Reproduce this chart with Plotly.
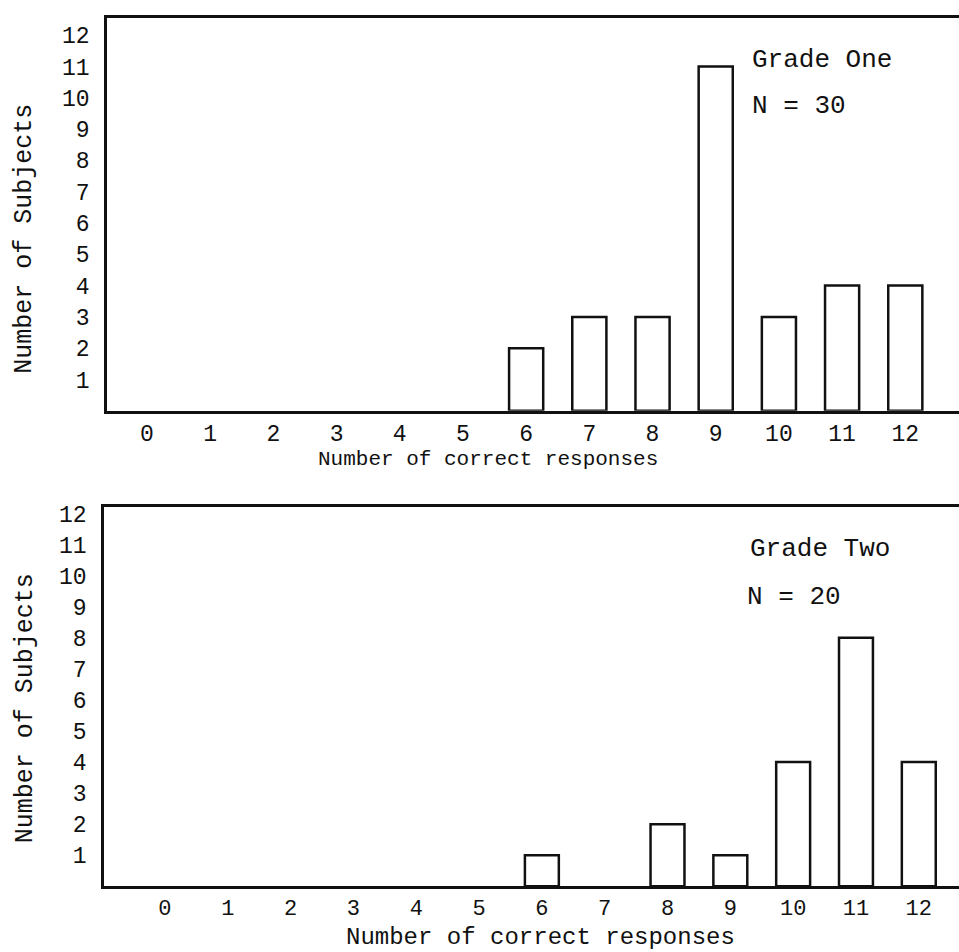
import plotly.graph_objects as go

# ---- data ----
responses = [0, 1, 2, 3, 4, 5, 6, 7, 8, 9, 10, 11, 12]
grade_one = [0, 0, 0, 0, 0, 0, 2, 3, 3, 11, 3, 4, 4]
grade_two = [0, 0, 0, 0, 0, 0, 1, 0, 2, 1, 4, 8, 4]
y_ticks = [1, 2, 3, 4, 5, 6, 7, 8, 9, 10, 11, 12]

FONT = "Liberation Mono"
INK = "#111111"

fig = go.Figure()

bar_style = dict(marker=dict(color="white", line=dict(color=INK, width=2.5)),
                 width=0.54, showlegend=False, hoverinfo="x+y")

def nonzero(xs, ys):
    pairs = [(x, y) for x, y in zip(xs, ys) if y > 0]
    return [p[0] for p in pairs], [p[1] for p in pairs]

x1, y1 = nonzero(responses, grade_one)
x2, y2 = nonzero(responses, grade_two)
fig.add_trace(go.Bar(x=x1, y=y1, xaxis="x", yaxis="y", **bar_style))
fig.add_trace(go.Bar(x=x2, y=y2, xaxis="x2", yaxis="y2", **bar_style))

W, H = 959, 952

def xd(px):
    return px / W

def yd(py):
    return 1 - py / H

axis_common = dict(showgrid=False, zeroline=False, showline=True,
                   linecolor=INK, linewidth=2.5,
                   ticks="outside", tickcolor="rgba(0,0,0,0)")

def tf(size):
    return dict(family=FONT, size=size, color=INK)

fig.update_layout(
    width=W, height=H,
    margin=dict(l=0, r=0, t=0, b=0),
    paper_bgcolor="white", plot_bgcolor="white",
    font=dict(family=FONT, color=INK),
    xaxis=dict(domain=[xd(107), 1], anchor="y", range=[-0.633, 12.85],
               tickvals=responses, mirror=True, ticklen=0, tickfont=tf(23), **axis_common),
    yaxis=dict(domain=[yd(408), yd(13)], anchor="x", range=[0, 12.55],
               tickvals=y_ticks, ticklen=10, tickfont=tf(23), **axis_common),
    xaxis2=dict(domain=[xd(104), 1], anchor="y2", range=[-0.97, 12.64],
                tickvals=responses, mirror=True, ticklen=0, tickfont=tf(22), **axis_common),
    yaxis2=dict(domain=[yd(886), yd(505)], anchor="x2", range=[0, 12.2],
                tickvals=y_ticks, ticklen=10, tickfont=tf(23), **axis_common),
)

ann = []
# axis titles
ann.append(dict(text="Number of Subjects", x=xd(25), y=yd(235), textangle=-90, font=tf(25)))
ann.append(dict(text="Number of Subjects", x=xd(25), y=yd(707), textangle=-90, font=tf(25)))
ann.append(dict(text="Number of correct responses", x=xd(488), y=yd(457), font=tf(21)))
ann.append(dict(text="Number of correct responses", x=xd(540), y=yd(937), font=tf(24)))
# panel labels
ann.append(dict(text="Grade One", x=xd(750), y=yd(55), xanchor="left", font=tf(26)))
ann.append(dict(text="N = 30", x=xd(750), y=yd(102), xanchor="left", font=tf(26)))
ann.append(dict(text="Grade Two", x=xd(748), y=yd(547), xanchor="left", font=tf(26)))
ann.append(dict(text="N = 20", x=xd(745), y=yd(595), xanchor="left", font=tf(26)))

for a in ann:
    a.update(xref="paper", yref="paper", showarrow=False)
    a.setdefault("xanchor", "center")
    a["yanchor"] = "middle"

fig.update_layout(annotations=ann)

fig.write_html("out.html",
               config={"displayModeBar": False},
               post_script="document.body.style.margin='0';"
                           "document.body.style.overflow='hidden';")
